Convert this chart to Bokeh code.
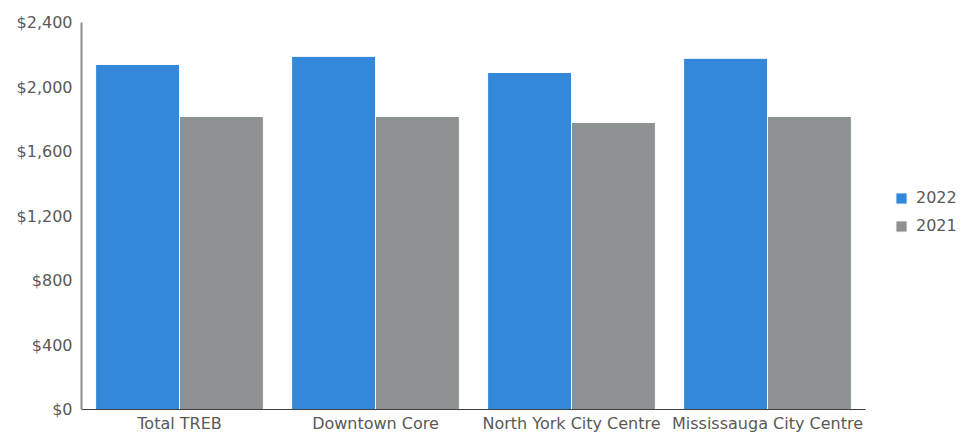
from bokeh.plotting import figure
from bokeh.models import ColumnDataSource, FactorRange, Range1d, NumeralTickFormatter, FixedTicker, Legend, LegendItem
from bokeh.transform import dodge
from bokeh.embed import file_html
from bokeh.resources import INLINE

categories = ["Total TREB", "Downtown Core", "North York City Centre", "Mississauga City Centre"]
series_names = ["2022", "2021"]
values_2022 = [2140, 2190, 2090, 2178]
values_2021 = [1817, 1817, 1780, 1817]
y_ticks = [0, 400, 800, 1200, 1600, 2000, 2400]

FONT = "DejaVu Sans"
TXT = "#595959"

src = ColumnDataSource(dict(cat=categories, v22=values_2022, v21=values_2021))

p = figure(x_range=FactorRange(factors=categories, range_padding=0),
           y_range=Range1d(0, 2400),
           frame_width=784, frame_height=387, output_backend="svg", toolbar_location=None,
           min_border_left=81, min_border_right=0, min_border_top=22, min_border_bottom=0)
p.outline_line_color = None
p.xgrid.visible = False
p.ygrid.visible = False

r1 = p.vbar(x=dodge("cat", -0.214, range=p.x_range), top="v22", width=0.428, source=src,
            fill_color="#3388d9", line_color="white", line_width=1)
r2 = p.vbar(x=dodge("cat", 0.214, range=p.x_range), top="v21", width=0.428, source=src,
            fill_color="#8e9192", line_color="white", line_width=1)

p.yaxis.ticker = FixedTicker(ticks=y_ticks)
p.yaxis.formatter = NumeralTickFormatter(format="$0,0")
p.yaxis.axis_line_color = "#8c8c8c"
p.yaxis.axis_line_width = 2
p.yaxis.major_tick_line_color = None
p.yaxis.minor_tick_line_color = None
p.yaxis.major_tick_out = 0
p.yaxis.major_tick_in = 0
p.yaxis.minor_tick_out = 0
p.yaxis.minor_tick_in = 0
p.yaxis.major_label_text_font = FONT
p.yaxis.major_label_text_font_size = "16px"
p.yaxis.major_label_text_color = TXT
p.yaxis.major_label_standoff = 9

p.xaxis.axis_line_color = "#404040"
p.xaxis.axis_line_width = 1
p.xaxis.major_tick_line_color = None
p.xaxis.minor_tick_line_color = None
p.xaxis.major_tick_out = 0
p.xaxis.major_tick_in = 0
p.xaxis.minor_tick_out = 0
p.xaxis.minor_tick_in = 0
p.xaxis.major_label_text_font = FONT
p.xaxis.major_label_text_font_size = "16px"
p.xaxis.major_label_text_color = TXT
p.xaxis.major_label_standoff = 4

legend = Legend(items=[LegendItem(label=series_names[0], renderers=[r1]),
                       LegendItem(label=series_names[1], renderers=[r2])],
                location=(29, 174))
legend.border_line_color = None
legend.background_fill_alpha = 0
legend.label_text_font = FONT
legend.label_text_font_size = "16px"
legend.label_text_color = TXT
legend.glyph_width = 14
legend.glyph_height = 14
legend.spacing = 9
legend.label_standoff = 8
legend.margin = 0
legend.padding = 0
p.add_layout(legend, "right")
p.min_border_right = 105

open("out.html", "w").write(file_html(p, INLINE))
